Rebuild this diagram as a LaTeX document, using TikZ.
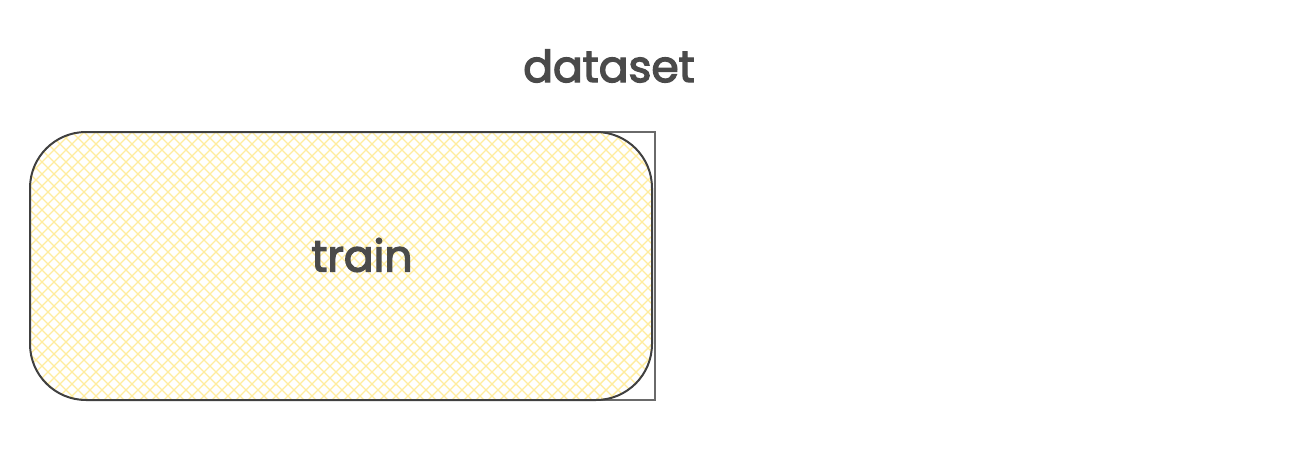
\documentclass[tikz,border=0pt]{standalone}
\usepackage{fontspec}
\setmainfont{Poppins}
\newfontfamily\lblfont[FakeBold=3]{Poppins}
\definecolor{inkc}{HTML}{404040}
\definecolor{txtc}{HTML}{4A4A4A}
\definecolor{hatchc}{HTML}{FFEC9E}
\definecolor{framec}{HTML}{6A6A6A}
\tikzset{
  lbl/.style={text=txtc, inner sep=0pt, font=\lblfont\fontsize{44}{50}\selectfont},
  boxline/.style={draw=inkc, line width=2pt},
  frameline/.style={draw=framec, line width=1.5pt},
  hatchline/.style={draw=hatchc, line width=1.4pt},
}
\begin{document}
\begin{tikzpicture}[x=1pt,y=-1pt]
\useasboundingbox (0,0) rectangle (1296,460);
% hatched fill
\begin{scope}
  \clip[rounded corners=56pt] (30,132) rectangle (652,400);
  \foreach \k in {-420,-408,...,700} {
    \draw[hatchline] (\k,132) -- ++(300,300);
    \draw[hatchline] (\k+300,132) -- ++(-300,300);
  }
\end{scope}
% frame (square) on the right
\coordinate (ft) at (598,132);
\coordinate (fr1) at (655,132);
\coordinate (fr2) at (655,400);
\coordinate (fb) at (598,400);
\draw[frameline] (ft) -- (fr1) -- (fr2) -- (fb);
% rounded box
\node[boxline, rounded corners=56pt, minimum width=622pt, minimum height=268pt, inner sep=0pt, outer sep=0pt, anchor=north west] (train) at (30,132) {};
\node[lbl] (trainlbl) at (362,255) {train};
\node[lbl] (dataset) at (609,66) {dataset};
\end{tikzpicture}
\end{document}
